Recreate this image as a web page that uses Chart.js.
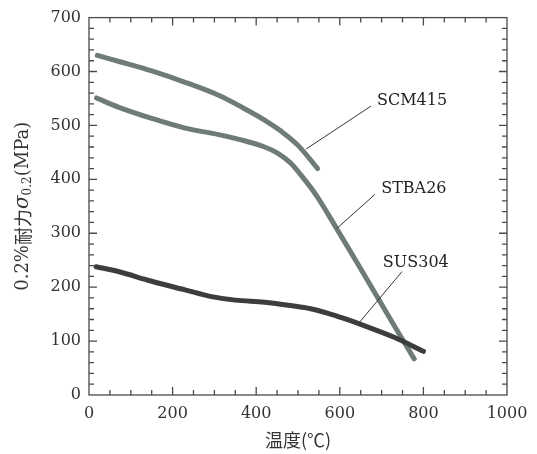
<!DOCTYPE html>
<html>
<head>
<meta charset="utf-8">
<script src="https://cdn.jsdelivr.net/npm/chart.js@4.4.0/dist/chart.umd.min.js"></script>
<style>
  html, body { margin: 0; padding: 0; background: #fff; }
  #wrap { width: 537px; height: 454px; }
</style>
</head>
<body>
<div id="wrap"><canvas id="c" width="537" height="454"></canvas></div>
<script>
// temperature (deg C) and 0.2% proof stress (MPa)
const scmTemp = [20, 70, 150, 230, 310, 370, 420, 460, 500, 547];
const scmStress = [630, 619, 601, 580, 556, 532, 510, 489, 463, 420];
const stbaTemp = [18, 70, 150, 230, 310, 370, 420, 450, 480, 505, 545, 593, 640, 688, 736, 778];
const stbaStress = [551, 534, 513, 495, 483, 472, 460, 449, 432, 410, 369, 308, 247, 184, 121, 67];
const susTemp = [17, 70, 150, 230, 290, 350, 420, 490, 530, 570, 610, 650, 730, 800];
const susStress = [238, 229, 211, 195, 183, 176, 172, 165, 160, 152, 142, 131, 107, 81];

// curve labels: text anchor and leader line ends, in data units
const labelNames = ["SCM415", "STBA26", "SUS304"];
const labelAt = [[689, 545], [699, 382], [703, 245]];
const leaderFrom = [[675, 536], [684, 372], [749, 229]];
const leaderTo = [[519, 456], [593, 309], [644, 132]];

const xTitle = "温度(℃)";
const serif = "'DejaVu Serif', 'Liberation Serif', serif";
const cjk = "'Noto Sans CJK JP', sans-serif";

function toPoints(xs, ys) {
    return xs.map((x, i) => ({ x: x, y: ys[i] }));
}

// box with inward ticks on all four sides, like the printed figure
const frameTicks = {
    id: "frameTicks",
    afterDatasetsDraw(chart) {
        const ctx = chart.ctx;
        const a = chart.chartArea;
        const xs = chart.scales.x, ys = chart.scales.y;
        ctx.save();
        ctx.strokeStyle = "#4a4a4a";
        ctx.lineWidth = 1.3;
        ctx.strokeRect(a.left, a.top, a.right - a.left, a.bottom - a.top);
        ctx.beginPath();
        for (let v = 50; v < 1000; v += 50) {
            const px = xs.getPixelForValue(v);
            const len = v % 200 === 0 ? 8 : 5;
            ctx.moveTo(px, a.bottom); ctx.lineTo(px, a.bottom - len);
            ctx.moveTo(px, a.top); ctx.lineTo(px, a.top + len);
        }
        for (let v = 20; v < 700; v += 20) {
            const py = ys.getPixelForValue(v);
            const len = v % 100 === 0 ? 8 : 5;
            ctx.moveTo(a.left, py); ctx.lineTo(a.left + len, py);
            ctx.moveTo(a.right, py); ctx.lineTo(a.right - len, py);
        }
        ctx.stroke();
        ctx.restore();
    }
};

// leader lines and curve names
const curveLabels = {
    id: "curveLabels",
    afterDatasetsDraw(chart) {
        const ctx = chart.ctx;
        const xs = chart.scales.x, ys = chart.scales.y;
        ctx.save();
        ctx.strokeStyle = "#333";
        ctx.lineWidth = 1;
        ctx.fillStyle = "#222";
        ctx.font = "16px " + serif;
        ctx.textAlign = "left";
        ctx.textBaseline = "middle";
        labelNames.forEach((name, i) => {
            ctx.beginPath();
            ctx.moveTo(xs.getPixelForValue(leaderFrom[i][0]), ys.getPixelForValue(leaderFrom[i][1]));
            ctx.lineTo(xs.getPixelForValue(leaderTo[i][0]), ys.getPixelForValue(leaderTo[i][1]));
            ctx.stroke();
            ctx.fillText(name, xs.getPixelForValue(labelAt[i][0]), ys.getPixelForValue(labelAt[i][1]));
        });
        ctx.restore();
    }
};

// y title has a subscript, so it is drawn by hand
const yTitle = {
    id: "yTitle",
    afterDraw(chart) {
        const ctx = chart.ctx;
        const a = chart.chartArea;
        const parts = [
            { t: "0.2%", f: "18px " + serif, dy: 0 },
            { t: "耐力", f: "18px " + cjk, dy: 0 },
            { t: "σ", f: "italic 20px " + serif, dy: 0 },
            { t: "0.2", f: "12px " + serif, dy: 5 },
            { t: "(MPa)", f: "18px " + serif, dy: 0 },
        ];
        ctx.save();
        ctx.translate(23, (a.top + a.bottom) / 2);
        ctx.rotate(-Math.PI / 2);
        ctx.fillStyle = "#333";
        ctx.textBaseline = "middle";
        ctx.textAlign = "left";
        let total = 0;
        parts.forEach(p => { ctx.font = p.f; p.w = ctx.measureText(p.t).width; total += p.w; });
        let x = -total / 2;
        parts.forEach(p => {
            ctx.font = p.f;
            ctx.fillText(p.t, x, p.dy);
            x += p.w;
        });
        ctx.restore();
    }
};

const lineStyle = {
    pointRadius: 0,
    borderWidth: 5,
    tension: 0.35,
    borderCapStyle: "round",
    borderJoinStyle: "round",
    fill: false,
};

new Chart(document.getElementById("c"), {
    type: "line",
    data: {
        datasets: [
            Object.assign({ label: "SUS304", data: toPoints(susTemp, susStress), borderColor: "#3c3e3d" }, lineStyle),
            Object.assign({ label: "SCM415", data: toPoints(scmTemp, scmStress), borderColor: "#6f7b76" }, lineStyle),
            Object.assign({ label: "STBA26", data: toPoints(stbaTemp, stbaStress), borderColor: "#6f7b76" }, lineStyle),
        ]
    },
    options: {
        responsive: false,
        animation: false,
        devicePixelRatio: 1,
        layout: { padding: { top: 12, right: 30, left: 0, bottom: 0 } },
        plugins: {
            legend: { display: false },
            tooltip: { enabled: false },
        },
        scales: {
            x: {
                type: "linear",
                min: 0,
                max: 1000,
                grid: { display: false, drawTicks: false },
                border: { display: false },
                ticks: {
                    stepSize: 200, padding: 9, color: "#333", font: { family: serif, size: 16 },
                    callback: v => String(v),
                },
                title: {
                    display: true,
                    text: xTitle,
                    color: "#333",
                    font: { family: cjk, size: 18 },
                    padding: { top: 0, bottom: 3 },
                },
                afterFit(scale) { scale.height = 59; },
            },
            y: {
                min: 0,
                max: 700,
                grid: { display: false, drawTicks: false },
                border: { display: false },
                ticks: {
                    stepSize: 100, padding: 8, color: "#333", font: { family: serif, size: 16 },
                    callback: v => String(v),
                },
                afterFit(scale) { scale.width = 89; },
            }
        }
    },
    plugins: [frameTicks, curveLabels, yTitle]
});
</script>
</body>
</html>
